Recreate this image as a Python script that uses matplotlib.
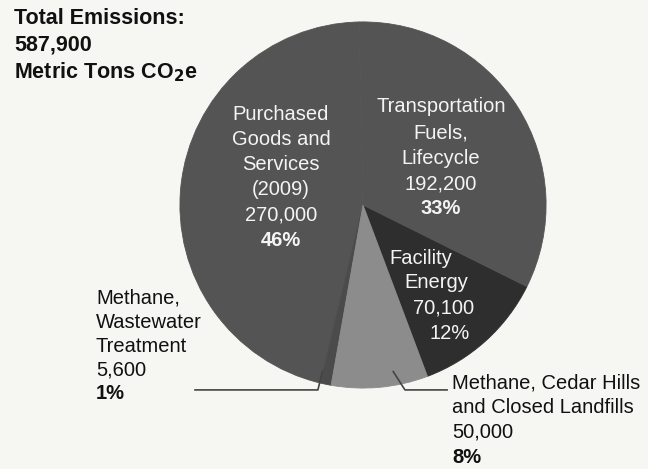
import numpy as np
import matplotlib
matplotlib.use("Agg")
import matplotlib.pyplot as plt

# ---- data ----
categories = ["Facility Energy", "Transportation Fuels, Lifecycle",
              "Purchased Goods and Services (2009)",
              "Methane, Wastewater Treatment",
              "Methane, Cedar Hills and Closed Landfills"]
values = [70100, 192200, 270000, 5600, 50000]
percents = ["12%", "33%", "46%", "1%", "8%"]
total_lines = ["Total Emissions:", "587,900", "Metric Tons CO$_\\mathbf{2}$e"]
colors = ["#2e2e2e", "#545454", "#545454", "#4b4b4b", "#8c8c8c"]

BG = "#f6f6f3"
W, H = 648, 469
fig = plt.figure(figsize=(W / 100, H / 100), dpi=100, facecolor=BG)
plt.rcParams['font.family'] = ['Liberation Sans', 'DejaVu Sans']

cx, cy, R = 363, 205, 184
ax = fig.add_axes([(cx - R) / W, (H - cy - R) / H, 2 * R / W, 2 * R / H])
ax.set_facecolor(BG)
wedges, _ = ax.pie(values, colors=colors, startangle=-69.4, counterclock=True,
                   radius=0.995, wedgeprops=dict(linewidth=0.6))
for w, c in zip(wedges, colors):
    w.set_edgecolor(c)
ax.set_xlim(-1, 1)
ax.set_ylim(-1, 1)
ax.set_aspect('equal')
ax.axis('off')

def ftext(x, y, s, **kw):
    fig.text(x / W, 1 - y / H, s, **kw)

# Total emissions block
for i, line in enumerate(total_lines):
    ftext(14, 18 + i * 27, line, fontsize=15.5, fontweight='bold', color='#111111',
          ha='left', va='center')

white = '#f4f4f4'
fs = 14.5
# Purchased goods label
pg_lines = ["Purchased", "Goods and", "Services", "(2009)", f"{values[2]:,}"]
for i, line in enumerate(pg_lines):
    ftext(281, 114 + i * 25.2, line, fontsize=fs, color=white, ha='center', va='center')
ftext(281, 240, percents[2], fontsize=fs, color=white, ha='center', va='center', fontweight='bold')

# Transportation label
tr_lines = ["Transportation", "Fuels,", "Lifecycle", f"{values[1]:,}"]
for i, line in enumerate(tr_lines):
    ftext(441, 107 + i * 25.5, line, fontsize=fs, color=white, ha='center', va='center')
ftext(441, 208, percents[1], fontsize=fs, color=white, ha='center', va='center', fontweight='bold')

# Facility energy label
fe = [("Facility", 421, 258), ("Energy", 436, 283), (f"{values[0]:,}", 444, 308),
      (percents[0], 450, 333)]
for s, x, y in fe:
    ftext(x, y, s, fontsize=fs, color=white, ha='center', va='center')

# Wastewater label
ww_lines = ["Methane,", "Wastewater", "Treatment", f"{values[3]:,}"]
for i, line in enumerate(ww_lines):
    ftext(96, 298 + i * 24, line, fontsize=fs, color='#111111', ha='left', va='center')
ftext(96, 393, percents[3], fontsize=fs, color='#111111', ha='left', va='center', fontweight='bold')

# Landfill label
lf_lines = ["Methane, Cedar Hills", "and Closed Landfills", f"{values[4]:,}"]
for i, line in enumerate(lf_lines):
    ftext(452, 383 + i * 24.5, line, fontsize=fs, color='#111111', ha='left', va='center')
ftext(452, 457, percents[4], fontsize=fs, color='#111111', ha='left', va='center', fontweight='bold')

# Leader lines from wedges
def anchor(w, r=0.92, off=0.0):
    a = np.deg2rad((w.theta1 + w.theta2) / 2 + off)
    return r * np.cos(a), r * np.sin(a)

lc = '#444444'
x0, y0 = anchor(wedges[3], 0.93, -2.0)
ax.plot([x0, -0.245, -0.913], [y0, -1.005, -1.005], color=lc, lw=1.2, clip_on=False)
x1, y1 = anchor(wedges[4], 0.92, 5.0)
ax.plot([x1, 0.228, 0.457], [y1, -1.005, -1.005], color=lc, lw=1.2, clip_on=False)

fig.savefig("out.png", dpi=100, facecolor=BG)
